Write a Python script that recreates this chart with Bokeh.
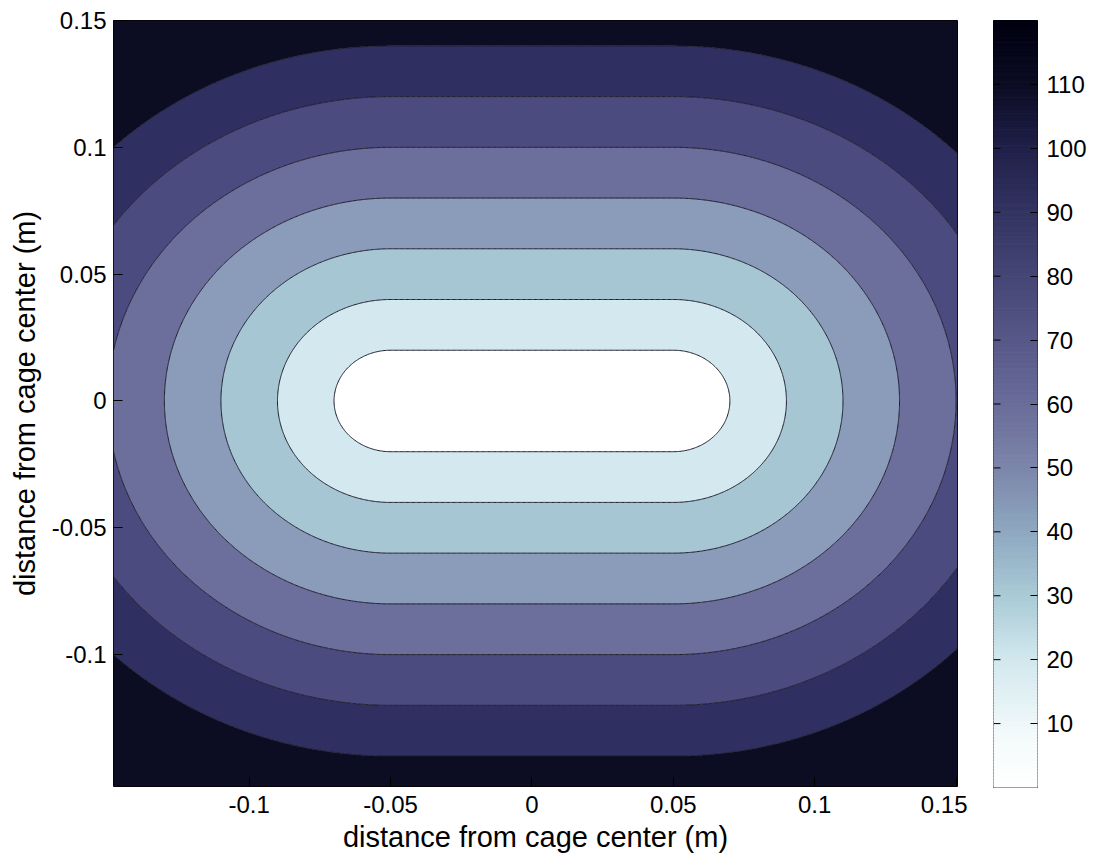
import numpy as np
from bokeh.plotting import figure
from bokeh.layouts import row
from bokeh.models import FixedTicker
from bokeh.embed import file_html
from bokeh.resources import INLINE

# ---- data ----
segment_half_length = 0.05          # the white core is a stadium around a segment (-0.05..0.05, 0)
band_levels = [-0.01, 0.02, 0.04, 0.06, 0.08, 0.10, 0.12, 0.14, 0.5]   # distance (m) contour levels
band_colors = ["#ffffff", "#d3e9ef", "#a6c6d3", "#8a9cba", "#6c6e9c",
               "#4c4b80", "#302f62", "#0c0c22"]
x_limits = (-0.148, 0.1505)
y_limits = (-0.152, 0.15)
x_ticks = [-0.1, -0.05, 0, 0.05, 0.1, 0.15]
x_tick_labels = ["-0.1", "-0.05", "0", "0.05", "0.1", "0.15"]
y_ticks = [-0.1, -0.05, 0, 0.05, 0.1, 0.15]
y_tick_labels = ["-0.1", "-0.05", "0", "0.05", "0.1", "0.15"]
cbar_range = (0, 120)
cbar_ticks = [10, 20, 30, 40, 50, 60, 70, 80, 90, 100, 110]
cbar_anchor_values = [0, 8, 20, 30, 40, 50, 60, 70, 80, 90, 100, 110, 120]
cbar_anchor_colors = ["#ffffff", "#f4fafb", "#d2e8ee", "#a9cbd6", "#8ea8c0", "#7c86aa",
                      "#6a6c9a", "#585888", "#464676", "#343462", "#20204a", "#0c0c24", "#000010"]
x_label = "distance from cage center (m)"
y_label = "distance from cage center (m)"

FONT = "Liberation Sans"

# ---- field: distance from the central segment ----
xs = np.linspace(x_limits[0], x_limits[1], 700)
ys = np.linspace(y_limits[0], y_limits[1], 700)
X, Y = np.meshgrid(xs, ys)
DX = np.maximum(np.abs(X) - segment_half_length, 0.0)
Z = np.sqrt(DX ** 2 + Y ** 2)

p = figure(frame_width=844, frame_height=766, min_border_left=113, min_border_top=20,
           min_border_bottom=72, min_border_right=10,
           x_range=x_limits, y_range=y_limits,
           output_backend="svg", toolbar_location=None)
p.contour(x=xs, y=ys, z=Z, levels=band_levels, fill_color=band_colors,
          line_color="#1c1c2c", line_width=1)
p.grid.visible = False
p.outline_line_color = "black"
p.outline_line_width = 1
p.background_fill_color = "white"

for ax, ticks, labels in ((p.xaxis[0], x_ticks, x_tick_labels), (p.yaxis[0], y_ticks, y_tick_labels)):
    ax.ticker = FixedTicker(ticks=ticks)
    ax.major_label_overrides = {t: l for t, l in zip(ticks, labels)}
    ax.minor_tick_line_color = None
    ax.major_tick_in = 9
    ax.major_tick_out = 0
    ax.major_tick_line_color = "black"
    ax.axis_line_color = None
    ax.major_label_text_font = FONT
    ax.major_label_text_font_size = "24px"
    ax.major_label_text_color = "black"
    ax.major_label_standoff = 7
    ax.axis_label_text_font = FONT
    ax.axis_label_text_font_size = "29px"
    ax.axis_label_text_font_style = "normal"
    ax.axis_label_text_color = "black"
p.xaxis.axis_label = x_label
p.yaxis.axis_label = y_label
p.xaxis.major_label_standoff = 9
p.xaxis.axis_label_standoff = 5
p.yaxis.axis_label_standoff = 8

# ---- colorbar as its own small figure ----
vals = np.linspace(cbar_range[0], cbar_range[1], 241)
bottoms = vals[:-1]
tops = vals[1:]
mids = (bottoms + tops) / 2
av = np.array(cbar_anchor_values, dtype=float)
rgb = np.array([[int(c[i:i + 2], 16) for i in (1, 3, 5)] for c in cbar_anchor_colors], dtype=float)
cols = []
for m in mids:
    r = np.interp(m, av, rgb[:, 0]); g = np.interp(m, av, rgb[:, 1]); b = np.interp(m, av, rgb[:, 2])
    cols.append("#%02x%02x%02x" % (int(round(r)), int(round(g)), int(round(b))))

p2 = figure(frame_width=44, frame_height=767, min_border_left=26, min_border_top=20,
            min_border_bottom=71, min_border_right=57,
            x_range=(0, 1), y_range=cbar_range, y_axis_location="right",
            output_backend="svg", toolbar_location=None)
p2.quad(left=0, right=1, bottom=bottoms, top=tops, fill_color=cols, line_color=cols, line_width=1)
# inward tick marks on the left edge of the colour bar
p2.segment(x0=0, x1=7 / 44, y0=cbar_ticks, y1=cbar_ticks, line_color="black", line_width=1)
p2.grid.visible = False
p2.xaxis.visible = False
p2.outline_line_color = "black"
p2.outline_line_width = 1
ya = p2.yaxis[0]
ya.ticker = FixedTicker(ticks=cbar_ticks)
ya.major_label_overrides = {t: str(t) for t in cbar_ticks}
ya.minor_tick_line_color = None
ya.major_tick_in = 7
ya.major_tick_out = 0
ya.axis_line_color = None
ya.major_label_text_font = FONT
ya.major_label_text_font_size = "24px"
ya.major_label_text_color = "black"
ya.major_label_standoff = 9

layout = row(p, p2)
open("out.html", "w").write(file_html(layout, INLINE))
